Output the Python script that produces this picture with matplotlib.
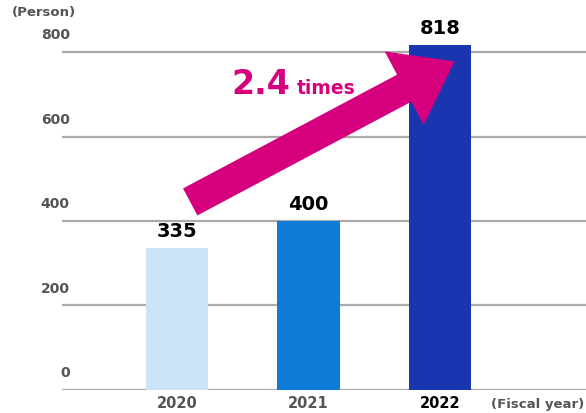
import numpy as np
import matplotlib
matplotlib.use("Agg")
import matplotlib.pyplot as plt
import matplotlib.transforms as mtransforms

# data
years = ["2020", "2021", "2022"]
persons = [335, 400, 818]
bar_colors = ["#cce4f8", "#0f7bd9", "#1a35b0"]
year_colors = ["#555555", "#555555", "#000000"]
y_ticks = [0, 200, 400, 600, 800]
growth_label = "2.4"

magenta = "#d6007f"
grey = "#555555"

fig = plt.figure(figsize=(5.86, 4.14), dpi=100)
ax = fig.add_axes([0.1058, 0.0563, 0.8942, 0.9437])

x = np.arange(len(years))
ax.bar(x, persons, width=0.475, color=bar_colors, zorder=3)

ax.set_xlim(-0.875, 3.11)
ax.set_ylim(0, 926)

# gridlines with labels sitting above them
trans = mtransforms.blended_transform_factory(ax.transAxes, ax.transData)
for v in y_ticks:
    ax.axhline(v, color="#aaaaaa", lw=1.6, zorder=1)
    ax.text(0.015, v + 42, str(v), transform=trans, ha="right", va="center",
            fontsize=10, fontweight="bold", color=grey)

for s in ax.spines.values():
    s.set_visible(False)
ax.set_yticks([])
ax.set_xticks(x)
ax.set_xticklabels(years, fontsize=10.5, fontweight="bold")
for lbl, c in zip(ax.get_xticklabels(), year_colors):
    lbl.set_color(c)
ax.tick_params(axis="x", length=0, pad=4)

# value labels
for xi, v in zip(x, persons):
    ax.text(xi, v + 19, str(v), ha="center", va="bottom", fontsize=14,
            fontweight="bold", color="black")

# growth arrow from first to last bar
tail = (x[0] + 0.1, persons[0] + 110)
tip = (x[2] + 0.11, persons[2] - 40)
ax.annotate("", xy=tip, xytext=tail, zorder=5,
            arrowprops=dict(arrowstyle="simple,head_length=41,head_width=60,tail_width=22",
                            mutation_scale=1, color=magenta, lw=0,
                            shrinkA=0, shrinkB=0))

ax.text(0.86, 704, growth_label, ha="right", va="baseline", fontsize=24,
        fontweight="bold", color=magenta, zorder=6)
ax.text(0.913, 704, "times", ha="left", va="baseline", fontsize=13.5,
        fontweight="bold", color=magenta, zorder=6)

fig.text(0.0205, 0.969, "(Person)", ha="left", va="center", fontsize=9.5,
         fontweight="bold", color=grey)
fig.text(0.8375, 0.024, "(Fiscal year)", ha="left", va="center", fontsize=9.5,
         fontweight="bold", color=grey)

fig.savefig("out.png", dpi=100)
